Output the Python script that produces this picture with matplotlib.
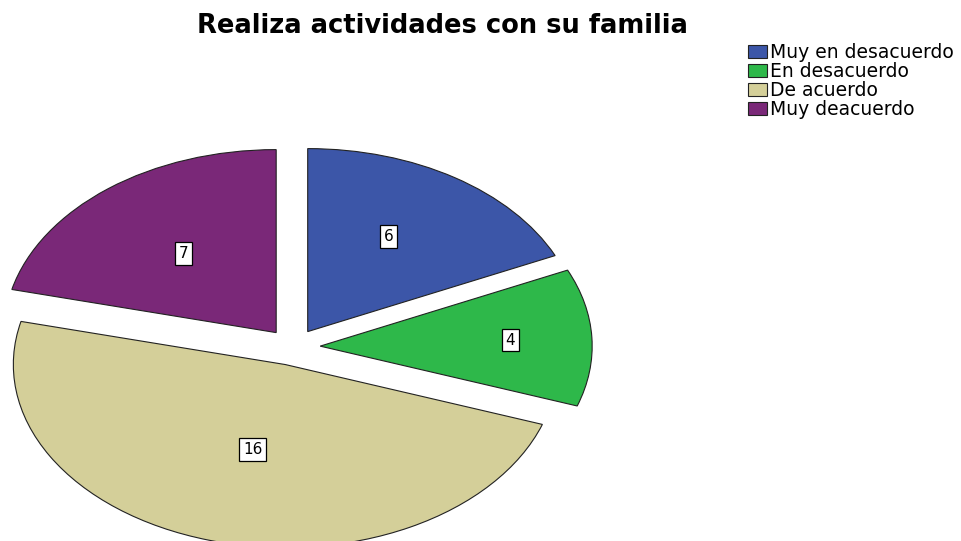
import numpy as np
import matplotlib.pyplot as plt
from matplotlib.patches import Patch

categorias = ['Muy en desacuerdo', 'En desacuerdo', 'De acuerdo', 'Muy deacuerdo']
valores = [6, 4, 16, 7]
colores = ['#3c56a8', '#2eb84a', '#d4cf99', '#7a2878']
titulo = 'Realiza actividades con su familia'

plt.rcParams['font.family'] = ['DejaVu Sans']

fig = plt.figure(figsize=(9.62, 5.41), dpi=100)
W, H = 962, 541
# pixel geometry of the ellipse: center and radii
cx, cy, rx, ry = 293, 347, 272, 183
x0, x1 = -1.05, 1.15
y0, y1 = -1.05, 1.12
left = cx + x0 * rx
bottom = (H - cy) + y0 * ry
ax = fig.add_axes([left / W, bottom / H, (x1 - x0) * rx / W, (y1 - y0) * ry / H])

wedges, _ = ax.pie(valores, colors=colores, startangle=90, counterclock=False,
                   explode=[0.1] * len(valores),
                   wedgeprops=dict(edgecolor='#222222', linewidth=0.8))
ax.set_aspect('auto')
ax.set_xlim(x0, x1)
ax.set_ylim(y0, y1)
ax.axis('off')

# value boxes (radial distance and small angle nudge per slice)
dist = [0.6, 0.7, 0.48, 0.55]
nudge = [3, 0, 2, 0]
for w, v, d, n in zip(wedges, valores, dist, nudge):
    ang = np.deg2rad((w.theta1 + w.theta2) / 2 + n)
    ox, oy = w.center
    ax.text(ox + d * np.cos(ang), oy + d * np.sin(ang), str(v),
            ha='center', va='center', fontsize=11,
            bbox=dict(boxstyle='square,pad=0.25', fc='white', ec='black', lw=0.9))

fig.text(442 / W, 1 - 26 / H, titulo, ha='center', va='center',
         fontsize=18.5, fontweight='bold')

handles = [Patch(facecolor=c, edgecolor='#222222', linewidth=0.8) for c in colores]
fig.legend(handles, categorias, loc='upper left', bbox_to_anchor=(748 / W, 1 - 43 / H),
           frameon=False, fontsize=13.5, handlelength=1.0, handleheight=0.72,
           handletextpad=0.2, labelspacing=0.0, borderpad=0, borderaxespad=0)

fig.savefig('out.png', dpi=100)
